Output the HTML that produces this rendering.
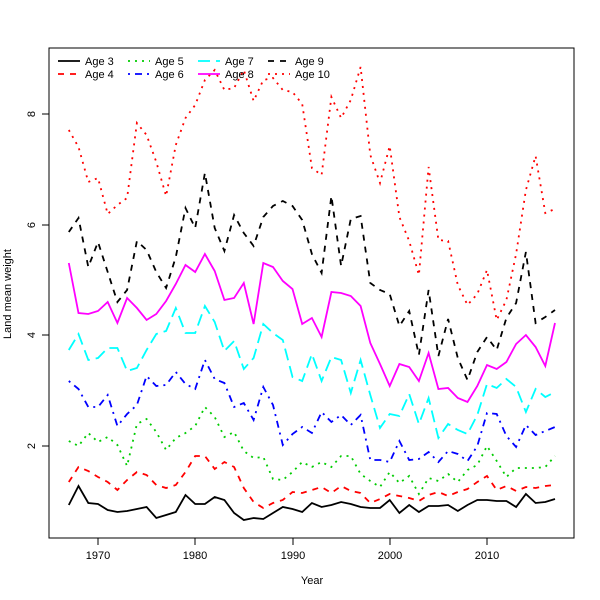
<!DOCTYPE html>
<html><head><meta charset="utf-8"><style>body{margin:0;background:#fff}svg{display:block;font-family:"Liberation Sans",sans-serif}</style></head>
<body>
<svg id="s" width="600" height="600" viewBox="0 0 600 600" xmlns="http://www.w3.org/2000/svg">
<rect x="49" y="48" width="525" height="490" fill="none" stroke="#000" stroke-width="1"/>
<g stroke="#000" stroke-width="1">
<line x1="98" y1="538" x2="487" y2="538"/>
<line x1="98" y1="538" x2="98" y2="545"/><line x1="195" y1="538" x2="195" y2="545"/><line x1="293" y1="538" x2="293" y2="545"/><line x1="390" y1="538" x2="390" y2="545"/><line x1="487" y1="538" x2="487" y2="545"/>
<line x1="49" y1="446" x2="49" y2="114"/>
<line x1="49" y1="446" x2="42" y2="446"/><line x1="49" y1="335" x2="42" y2="335"/><line x1="49" y1="225" x2="42" y2="225"/><line x1="49" y1="114" x2="42" y2="114"/>
</g>
<g font-size="11" text-anchor="middle" fill="#000">
<text x="98" y="559">1970</text><text x="195" y="559">1980</text><text x="293" y="559">1990</text><text x="390" y="559">2000</text><text x="487" y="559">2010</text>
<text transform="translate(35,446) rotate(-90)">2</text><text transform="translate(35,335) rotate(-90)">4</text><text transform="translate(35,225) rotate(-90)">6</text><text transform="translate(35,114) rotate(-90)">8</text>
<text x="312" y="584">Year</text>
<text transform="translate(11,294) rotate(-90)">Land mean weight</text>
</g>
<g id="series" fill="none" stroke-width="1.8"></g>
<g id="leg" font-size="11" fill="#000"></g>
</svg>
<script>
var D=[
["#000","",[505,486,503,504,510,512,511,509,507,518,515,512,495,504,504,497,500,513,520,518,519,513,507,509,512,503,507,505,502,504,507,508,508,500,513,505,512,506,506,505,511,505,500,500,501,501,507,494,503,502,499]],
["#f00","6,6",[482,467,471,477,482,490,480,472,475,485,488,485,472,456,456,469,462,467,488,502,508,503,500,492,493,490,487,493,486,491,493,503,499,494,496,498,501,495,492,496,492,489,482,476,490,486,491,487,488,486,485]],
["#0c0","2,5",[441,446,433,442,437,445,466,424,419,432,450,438,433,426,407,417,437,432,451,458,457,479,480,472,462,467,462,467,456,456,474,481,487,472,483,476,494,478,481,474,482,470,465,446,461,477,468,468,468,467,456]],
["#00f","2,5,7,5",[381,389,407,407,395,426,414,405,376,386,385,372,384,389,360,379,383,407,403,420,387,405,445,434,427,433,412,422,415,425,415,460,460,462,441,460,459,452,462,451,454,461,446,413,414,436,447,425,435,431,427]],
["#0ff","12,6",[350,334,360,358,348,348,371,368,350,334,331,308,333,333,306,322,351,341,369,358,324,333,340,377,381,354,381,357,360,393,360,395,428,414,416,394,424,398,438,424,430,434,415,384,388,379,387,412,389,397,392]],
["#f0f","",[263,313,314,311,302,323,298,308,320,314,301,284,265,272,254,271,300,298,283,324,263,267,281,289,324,318,337,292,293,296,306,343,364,386,364,367,381,353,389,388,398,402,386,365,369,362,344,335,347,366,323]],
["#000","6,6",[232,218,267,242,272,302,290,241,250,272,288,257,208,228,173,228,251,215,233,246,217,206,201,206,220,254,273,196,266,219,216,283,290,294,326,311,355,290,356,319,358,380,352,337,350,318,303,252,323,317,310]],
["#f00","2,5",[130,147,182,178,214,205,198,123,135,162,196,145,118,105,80,70,90,88,70,101,80,78,90,92,104,168,175,97,118,100,67,155,183,146,217,241,275,167,240,241,285,305,294,270,320,300,254,190,156,213,209]]
];
var NS="http://www.w3.org/2000/svg",g=document.getElementById("series"),L=document.getElementById("leg");
D.forEach(function(s){var p=document.createElementNS(NS,"polyline");p.setAttribute("points",s[2].map(function(y,i){return (68.8+9.725*i).toFixed(1)+","+y}).join(" "));p.setAttribute("stroke",s[0]);if(s[1])p.setAttribute("stroke-dasharray",s[1]);g.appendChild(p);});
var names=["Age 3","Age 4","Age 5","Age 6","Age 7","Age 8","Age 9","Age 10"],cx=[58,128,198,268];
names.forEach(function(n,i){var c=Math.floor(i/2),r=i%2,y=61+r*13,x=cx[c];var l=document.createElementNS(NS,"line");l.setAttribute("x1",x);l.setAttribute("x2",x+22);l.setAttribute("y1",y);l.setAttribute("y2",y);l.setAttribute("stroke",D[i][0]);l.setAttribute("stroke-width","1.8");if(D[i][1])l.setAttribute("stroke-dasharray",D[i][1]);L.appendChild(l);var t=document.createElementNS(NS,"text");t.setAttribute("x",x+27);t.setAttribute("y",y+4);t.textContent=n;L.appendChild(t);});
</script>
</body></html>
